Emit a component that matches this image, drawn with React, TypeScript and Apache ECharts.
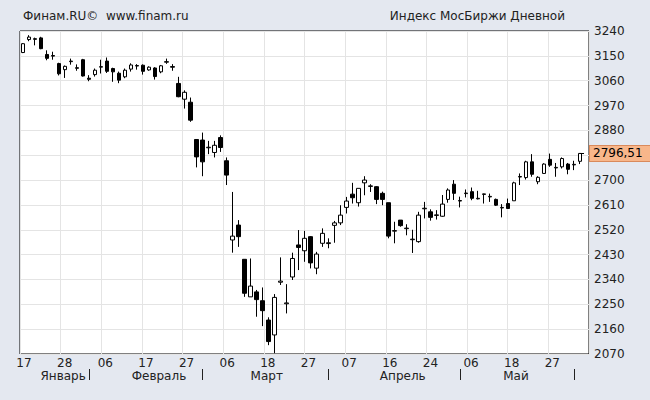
import { useEffect, useRef } from 'react';
import * as echarts from 'echarts';

// Daily candles (open, close, low, high), one per trading day from 17 Jan
const opens = [
  3162, 3209, 3212, 3215, 3155, 3151, 3122, 3100, 3129, 3107,
  3136, 3069, 3082, 3109, 3131, 3104, 3087, 3074, 3102, 3113,
  3116, 3099, 3106, 3092, 3127, 3111, 3050, 2993, 2982, 2847,
  2845, 2817, 2800, 2854, 2770, 2483, 2537, 2413, 2277, 2295,
  2263, 2193, 2139, 2330, 2252, 2349, 2465, 2444, 2495, 2381,
  2471, 2470, 2536, 2545, 2601, 2649, 2618, 2690, 2677, 2676,
  2652, 2618, 2515, 2555, 2524, 2484, 2477, 2596, 2585, 2572,
  2569, 2630, 2685, 2624, 2651, 2658, 2632, 2648, 2639, 2630,
  2599, 2615, 2625, 2711, 2709, 2766, 2694, 2724, 2775, 2744,
  2748, 2758, 2755, 2768,
];
const closes = [
  3194, 3218, 3210, 3176, 3141, 3149, 3085, 3112, 3131, 3105,
  3077, 3065, 3098, 3111, 3094, 3092, 3062, 3098, 3117, 3115,
  3094, 3109, 3075, 3114, 3129, 3109, 3002, 3018, 2917, 2784,
  2766, 2819, 2826, 2818, 2718, 2497, 2495, 2290, 2316, 2267,
  2227, 2115, 2275, 2334, 2255, 2416, 2456, 2489, 2400, 2432,
  2507, 2473, 2545, 2573, 2624, 2636, 2670, 2700, 2679, 2630,
  2630, 2497, 2517, 2535, 2526, 2486, 2573, 2598, 2565, 2574,
  2613, 2664, 2652, 2626, 2653, 2634, 2634, 2650, 2641, 2609,
  2601, 2597, 2690, 2713, 2766, 2721, 2710, 2758, 2754, 2746,
  2778, 2739, 2757, 2796.51,
];
const lows = [
  3160, 3203, 3188, 3174, 3134, 3136, 3079, 3070, 3118, 3096,
  3075, 3058, 3075, 3086, 3088, 3056, 3051, 3069, 3093, 3100,
  3082, 3096, 3064, 3087, 3121, 3096, 3000, 2959, 2911, 2746,
  2714, 2794, 2782, 2802, 2682, 2437, 2458, 2277, 2277, 2205,
  2171, 2102, 2073, 2320, 2217, 2338, 2374, 2404, 2380, 2359,
  2458, 2453, 2473, 2537, 2579, 2615, 2604, 2645, 2657, 2613,
  2609, 2489, 2471, 2531, 2500, 2436, 2473, 2561, 2553, 2557,
  2567, 2618, 2628, 2601, 2637, 2627, 2630, 2615, 2621, 2606,
  2565, 2597, 2625, 2682, 2702, 2712, 2685, 2724, 2748, 2712,
  2742, 2721, 2736, 2758,
];
const highs = [
  3196, 3225, 3216, 3219, 3170, 3165, 3125, 3115, 3140, 3119,
  3139, 3080, 3104, 3136, 3144, 3107, 3093, 3104, 3123, 3120,
  3119, 3112, 3109, 3117, 3140, 3120, 3074, 3025, 2999, 2847,
  2872, 2842, 2842, 2862, 2782, 2657, 2555, 2413, 2416, 2302,
  2311, 2203, 2287, 2420, 2323, 2437, 2519, 2516, 2497, 2440,
  2525, 2489, 2552, 2609, 2639, 2690, 2670, 2714, 2685, 2678,
  2658, 2618, 2549, 2555, 2540, 2520, 2585, 2621, 2594, 2591,
  2646, 2670, 2700, 2640, 2666, 2673, 2661, 2651, 2651, 2633,
  2613, 2633, 2694, 2724, 2770, 2794, 2714, 2761, 2796, 2762,
  2782, 2762, 2770, 2798,
];
const slotCount = 95;

const dayLabels = ['17', '28', '06', '17', '27', '06', '18', '27', '07', '16', '24', '06', '18', '27'];
const monthNames = ['Январь', 'Февраль', 'Март', 'Апрель', 'Май'];
const monthLabelAt = [6.7, 22.7, 40.7, 63.4, 82.3];
const monthBoundaryAt = [11, 30, 51, 73, 92];

const yMin = 2070;
const yMax = 3240;
const yStep = 90;

const lastPrice = 2796.51;
const lastPriceText = '2796,51';
const headerLeft = 'Финам.RU©\u00A0 www.finam.ru';
const headerRight = 'Индекс МосБиржи Дневной';

export default function App() {
  const ref = useRef<HTMLDivElement>(null);
  useEffect(() => {
    const chart = echarts.init(ref.current!, null, { renderer: 'svg' });
    const font = 'DejaVu Sans';
    const candleData = opens.map((o, i) => [o, closes[i], lows[i], highs[i]]);
    const categories = Array.from({ length: slotCount }, (_, i) => String(i));
    const txt = { fontFamily: font, fontSize: 12, color: '#222' };
    chart.setOption({
      animation: false,
      backgroundColor: '#E4E8F0',
      textStyle: { fontFamily: font },
      title: [
        { text: headerLeft, left: 18, top: 5, textStyle: { ...txt, fontWeight: 'normal' } },
        { text: headerRight, right: 80, top: 5, textStyle: { ...txt, fontWeight: 'normal' } },
      ],
      grid: {
        left: 20, right: 61, top: 31, bottom: 46, outerBoundsMode: 'none', containLabel: false,
        show: true, backgroundColor: '#fff', borderColor: '#000', borderWidth: 1,
      },
      xAxis: [
        { type: 'category', data: categories, boundaryGap: true, show: false },
        {
          type: 'value', min: 0, max: dayLabels.length, interval: 1, position: 'bottom',
          axisLine: { show: false }, axisTick: { show: false },
          splitLine: { show: true, lineStyle: { color: '#e4e4e4' } },
          axisLabel: {
            ...txt, margin: 3, padding: [0, 0, 0, 8],
            showMinLabel: true, showMaxLabel: false,
            formatter: (v: number) => dayLabels[v] ?? '',
          },
        },
        {
          type: 'value', min: -0.5, max: slotCount - 0.5, position: 'bottom', offset: 15,
          axisLine: { show: false }, splitLine: { show: false },
          axisTick: { show: true, customValues: monthBoundaryAt, length: 11, lineStyle: { color: '#222' } },
          axisLabel: {
            ...txt, margin: 1, customValues: monthLabelAt,
            formatter: (v: number) => monthNames[monthLabelAt.indexOf(v)] ?? '',
          },
        },
      ],
      yAxis: [
        {
          type: 'value', position: 'right', min: yMin, max: yMax, interval: yStep,
          axisLine: { show: false }, axisTick: { show: false },
          splitLine: { show: true, lineStyle: { color: '#e4e4e4' } },
          axisLabel: { ...txt, margin: 5, formatter: (v: number) => String(v) },
        },
        {
          type: 'value', position: 'right', min: yMin, max: yMax,
          axisLine: { show: false }, axisTick: { show: false }, splitLine: { show: false },
          axisLabel: {
            ...txt, color: '#000', margin: 1, customValues: [lastPrice],
            formatter: () => lastPriceText,
            backgroundColor: '#F8B68A', borderColor: '#D98A5C', borderWidth: 1,
            padding: [1, 10, 0, 3], lineHeight: 14,
          },
        },
      ],
      series: [
        {
          type: 'candlestick', xAxisIndex: 0, yAxisIndex: 0,
          data: candleData, barWidth: 4,
          itemStyle: { color: '#fff', color0: '#000', borderColor: '#000', borderColor0: '#000', borderWidth: 1 },
          markLine: {
            silent: true, symbol: ['none', 'none'],
            lineStyle: { color: '#000', type: 'dashed', width: 1 },
            label: { show: false },
            data: [[{ coord: [String(opens.length - 1), lastPrice] }, { coord: [String(opens.length), lastPrice] }]],
          },
        },
      ],
    });
    return () => chart.dispose();
  }, []);
  return <div ref={ref} style={{ position: 'absolute', left: 0, top: 0, width: 650, height: 400 }} />;
}
